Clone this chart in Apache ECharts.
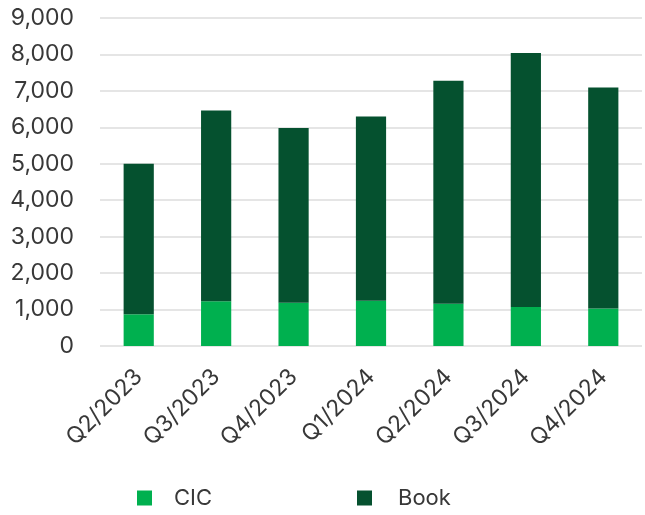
<!DOCTYPE html>
<html>
<head>
<meta charset="utf-8">
<style>
  html, body { margin: 0; padding: 0; background: #ffffff; }
  #chart { width: 645px; height: 515px; }
</style>
<script src="https://cdn.jsdelivr.net/npm/echarts@6/dist/echarts.min.js"></script>
</head>
<body>
<div id="chart"></div>
<script>
// Quarterly volumes, stacked: CIC at the base, Book on top
const categories = ['Q2/2023', 'Q3/2023', 'Q4/2023', 'Q1/2024', 'Q2/2024', 'Q3/2024', 'Q4/2024'];
const cicValues  = [870, 1230, 1190, 1240, 1160, 1070, 1030];
const bookValues = [4130, 5230, 4790, 5060, 6120, 6970, 6060];
const yTicks = { min: 0, max: 9000, interval: 1000 };

const FONT = 'Inter, "Noto Sans", sans-serif';
const TEXT = '#383838';

const chart = echarts.init(document.getElementById('chart'), null, { renderer: 'canvas' });

chart.setOption({
  animation: false,
  backgroundColor: '#ffffff',
  grid: { left: 100, right: 3, top: 18, bottom: 169 },
  xAxis: {
    type: 'category',
    data: categories,
    axisLine: { show: false },
    axisTick: { show: false },
    axisLabel: {
      rotate: 45,
      margin: 27,
      fontFamily: FONT,
      fontSize: 23,
      color: TEXT
    }
  },
  yAxis: {
    type: 'value',
    min: yTicks.min,
    max: yTicks.max,
    interval: yTicks.interval,
    axisLine: { show: false },
    axisTick: { show: false },
    splitLine: { lineStyle: { color: '#dcdcdc', width: 1.6 } },
    axisLabel: {
      margin: 26,
      fontFamily: FONT,
      fontSize: 23,
      color: TEXT,
      formatter: v => v.toLocaleString('en-US')
    }
  },
  legend: [
    {
      data: ['CIC'],
      left: 132, top: 482,
      itemWidth: 15, itemHeight: 15,
      icon: 'rect',
      textStyle: { fontFamily: FONT, fontSize: 22, color: TEXT, padding: [5, 0, 0, 17] }
    },
    {
      data: ['Book'],
      left: 352, top: 482,
      itemWidth: 15, itemHeight: 15,
      icon: 'rect',
      textStyle: { fontFamily: FONT, fontSize: 22, color: TEXT, padding: [5, 0, 0, 21] }
    }
  ],
  series: [
    {
      name: 'CIC',
      type: 'bar',
      stack: 'total',
      data: cicValues,
      barWidth: '39%',
      itemStyle: { color: '#00b04f' }
    },
    {
      name: 'Book',
      type: 'bar',
      stack: 'total',
      data: bookValues,
      barWidth: '39%',
      itemStyle: { color: '#05512f' }
    }
  ]
});
</script>
</body>
</html>
